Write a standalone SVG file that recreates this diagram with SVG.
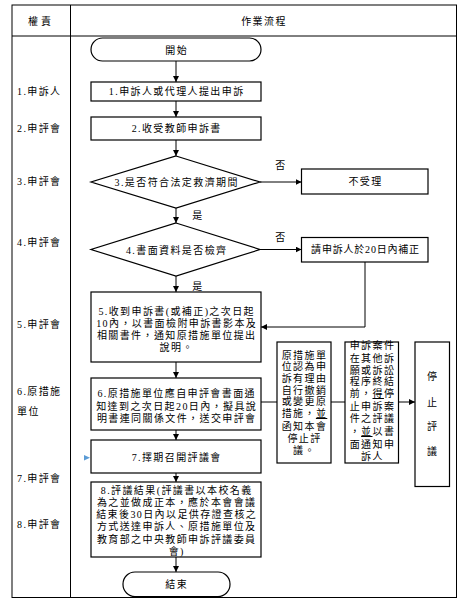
<svg xmlns="http://www.w3.org/2000/svg" width="461" height="606" viewBox="0 0 461 606">
<style>
.t{font-family:"Liberation Serif","Noto Sans CJK TC",serif;font-size:10px;fill:#000;letter-spacing:1.4px}
.m{text-anchor:middle}
.box{fill:#fff;stroke:#000;stroke-width:1.2}
.ln{stroke:#000;stroke-width:1;fill:none}
.grid{stroke:#000;stroke-width:1;fill:none}
</style>
<defs>
<marker id="ah" markerWidth="6" markerHeight="6" refX="6" refY="3" orient="auto" markerUnits="userSpaceOnUse">
<path d="M0,0 L6,3 L0,6 z" fill="#000"/>
</marker>
</defs>
<rect width="461" height="606" fill="#fff"/>
<g id="table">
<rect class="grid" x="12" y="5" width="444.5" height="592.5"/>
<line class="grid" x1="12" y1="36" x2="456.5" y2="36"/>
<line class="grid" x1="70.5" y1="5" x2="70.5" y2="597.5"/>
<text class="t m" x="41" y="25" style="letter-spacing:3px">權責</text>
<text class="t m" x="264" y="25">作業流程</text>
</g>
<g id="roles">
<text class="t" x="17" y="95">1.申訴人</text>
<text class="t" x="17" y="132">2.申評會</text>
<text class="t" x="17" y="185">3.申評會</text>
<text class="t" x="17" y="246">4.申評會</text>
<text class="t" x="17" y="328">5.申評會</text>
<text class="t" x="17" y="395">6.原措施</text>
<text class="t" x="17" y="415">單位</text>
<text class="t" x="17" y="482">7.申評會</text>
<text class="t" x="17" y="528">8.申評會</text>
</g>
<g id="connectors">
<line class="ln" x1="176" y1="61" x2="176" y2="82" marker-end="url(#ah)"/>
<line class="ln" x1="176" y1="101" x2="176" y2="117" marker-end="url(#ah)"/>
<line class="ln" x1="176" y1="140" x2="176" y2="156" marker-end="url(#ah)"/>
<line class="ln" x1="260" y1="182" x2="301.5" y2="182" marker-end="url(#ah)"/>
<line class="ln" x1="176" y1="208" x2="176" y2="223" marker-end="url(#ah)"/>
<line class="ln" x1="260" y1="249.5" x2="301.5" y2="249.5" marker-end="url(#ah)"/>
<polyline class="ln" points="365,262 365,327 261,327" marker-end="url(#ah)"/>
<line class="ln" x1="176" y1="276" x2="176" y2="292" marker-end="url(#ah)"/>
<line class="ln" x1="176" y1="362" x2="176" y2="378" marker-end="url(#ah)"/>
<line class="ln" x1="261" y1="402" x2="277" y2="402"/>
<line class="ln" x1="331" y1="402" x2="345" y2="402"/>
<line class="ln" x1="398.5" y1="402" x2="415" y2="402" marker-end="url(#ah)"/>
<line class="ln" x1="176" y1="430" x2="176" y2="440" marker-end="url(#ah)"/>
<line class="ln" x1="176" y1="473" x2="176" y2="482" marker-end="url(#ah)"/>
<line class="ln" x1="176" y1="557" x2="176" y2="572" marker-end="url(#ah)"/>
<text class="t m" x="281" y="169">否</text>
<text class="t m" x="198" y="219">是</text>
<text class="t m" x="281" y="241">否</text>
<text class="t m" x="198" y="290">是</text>
<polygon points="84,455 90,457.7 84,460.4" fill="#5b9bd5"/>
</g>
<g id="start">
<rect class="box" x="91" y="38" width="170" height="23" rx="11.5"/>
<text class="t m" x="176.7" y="53.5">開始</text>
</g>
<g id="n1">
<rect class="box" x="91" y="82" width="170" height="19"/>
<text class="t m" x="176.7" y="95">1.申訴人或代理人提出申訴</text>
</g>
<g id="n2">
<rect class="box" x="91" y="117" width="170" height="23"/>
<text class="t m" x="176.7" y="132">2.收受教師申訴書</text>
</g>
<g id="n3">
<polygon class="box" points="176,156 260,182 176,208 91,182"/>
<text class="t m" x="176.7" y="185.5">3.是否符合法定救濟期間</text>
</g>
<g id="n3no">
<rect class="box" x="301.5" y="169" width="126.5" height="25"/>
<text class="t m" x="365.5" y="185">不受理</text>
</g>
<g id="n4">
<polygon class="box" points="176,223 260,249.5 176,276 91,249.5"/>
<text class="t m" x="176.7" y="253.5">4.書面資料是否檢齊</text>
</g>
<g id="n4no">
<rect class="box" x="301.5" y="237.5" width="126.5" height="24.5"/>
<text class="t m" x="365.5" y="253" style="letter-spacing:0.8px">請申訴人於20日內補正</text>
</g>
<g id="n5">
<rect class="box" x="91" y="292" width="170" height="70"/>
<text class="t m" x="176.7" y="315">5.收到申訴書(或補正)之次日起</text>
<text class="t m" x="176.7" y="327">10內，以書面檢附申訴書影本及</text>
<text class="t m" x="176.7" y="339">相關書件，通知原措施單位提出</text>
<text class="t m" x="176.7" y="351">說明。</text>
</g>
<g id="n6">
<rect class="box" x="91" y="378" width="170" height="52"/>
<text class="t m" x="176.7" y="397">6.原措施單位應自申評會書面通</text>
<text class="t m" x="176.7" y="410">知達到之次日起20日內，擬具說</text>
<text class="t m" x="176.7" y="422">明書連同關係文件，送交申評會</text>
</g>
<g id="nA">
<rect class="box" x="277" y="342" width="54" height="121"/>
<text class="t m" x="304.5" y="358.5">原措施單</text>
<text class="t m" x="304.5" y="370">位認為申</text>
<text class="t m" x="304.5" y="381.5">訴有理由</text>
<text class="t m" x="304.5" y="393.5">自行撤銷</text>
<text class="t m" x="304.5" y="405">或變更原</text>
<text class="t m" x="304.5" y="417">措施，<tspan text-decoration="underline">並</tspan></text>
<text class="t m" x="304.5" y="430">函知本會</text>
<text class="t m" x="304.5" y="442">停止評</text>
<text class="t m" x="304.5" y="454">議。</text>
</g>
<g id="nB">
<rect class="box" x="345" y="342" width="53.5" height="121"/>
<text class="t m" x="372.5" y="349">申訴案件</text>
<text class="t m" x="372.5" y="361.5">在其他訴</text>
<text class="t m" x="372.5" y="373.5">願或訴訟</text>
<text class="t m" x="372.5" y="385">程序終結</text>
<text class="t m" x="372.5" y="397">前，<tspan text-decoration="underline">得</tspan>停</text>
<text class="t m" x="372.5" y="410">止申訴案</text>
<text class="t m" x="372.5" y="421.5">件之評議</text>
<text class="t m" x="372.5" y="435">，<tspan text-decoration="underline">並</tspan>以書</text>
<text class="t m" x="372.5" y="448">面通知申</text>
<text class="t m" x="372.5" y="460">訴人</text>
</g>
<g id="nC">
<rect class="box" x="415" y="342" width="34.5" height="144.5"/>
<text class="t m" x="432.7" y="380">停</text>
<text class="t m" x="432.7" y="406">止</text>
<text class="t m" x="432.7" y="430">評</text>
<text class="t m" x="432.7" y="455">議</text>
</g>
<g id="n7">
<rect class="box" x="91" y="440" width="170" height="33"/>
<text class="t m" x="176.7" y="461">7.擇期召開評議會</text>
</g>
<g id="n8">
<rect class="box" x="91" y="482" width="170" height="75"/>
<text class="t m" x="176.7" y="494">8.評議結果(評議書以本校名義</text>
<text class="t m" x="176.7" y="506">為之並做成正本，應於本會會議</text>
<text class="t m" x="176.7" y="518">結束後30日內以足供存證查核之</text>
<text class="t m" x="176.7" y="530">方式送達申訴人、原措施單位及</text>
<text class="t m" x="176.7" y="542.5">教育部之中央教師申訴評議委員</text>
<text class="t m" x="176.7" y="555">會)</text>
</g>
<g id="end">
<rect class="box" x="123" y="572" width="107" height="24.5" rx="12"/>
<text class="t m" x="176.7" y="588">結束</text>
</g>
</svg>
